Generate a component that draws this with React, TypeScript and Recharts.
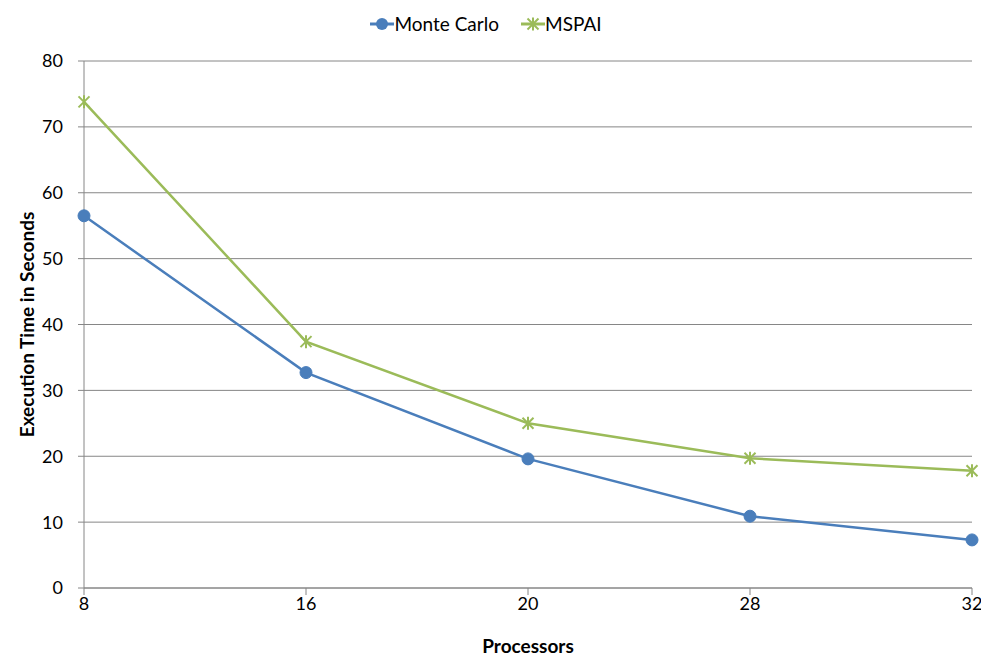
import React from 'react';
import { LineChart, Line, XAxis, YAxis, CartesianGrid, Legend } from 'recharts';

const processors = ['8', '16', '20', '28', '32'];
const monteCarlo = [56.5, 32.7, 19.6, 10.9, 7.3];
const mspai = [73.8, 37.4, 25.0, 19.7, 17.8];
const yTicks = [0, 10, 20, 30, 40, 50, 60, 70, 80];

const data = processors.map((p, i) => ({ p, mc: monteCarlo[i], ms: mspai[i] }));

const BLUE = '#4A7EBB';
const GREEN = '#9BBB59';
const GRID = '#868686';
const FONT = 'Lato, "Open Sans", sans-serif';

const CircleDot = (props: any) => {
  const { cx, cy } = props;
  if (cx == null || cy == null) return null;
  return <circle cx={cx} cy={cy} r={6} fill={BLUE} stroke={BLUE} strokeWidth={1} />;
};

const StarDot = (props: any) => {
  const { cx, cy } = props;
  if (cx == null || cy == null) return null;
  const s = 5.5;
  return (
    <g stroke={GREEN} strokeWidth={2}>
      <line x1={cx - s} y1={cy - s} x2={cx + s} y2={cy + s} />
      <line x1={cx - s} y1={cy + s} x2={cx + s} y2={cy - s} />
      <line x1={cx} y1={cy - s - 1} x2={cx} y2={cy + s + 1} />
    </g>
  );
};

const LegendContent = () => (
  <div style={{ display: 'flex', justifyContent: 'center', fontFamily: FONT, fontSize: 19, color: '#000' }}>
    <div style={{ display: 'flex', alignItems: 'center', marginRight: 22 }}>
      <svg width={24} height={16}>
        <line x1={0} y1={8} x2={24} y2={8} stroke={BLUE} strokeWidth={3} />
        <circle cx={12} cy={8} r={6} fill={BLUE} />
      </svg>
      <span>Monte Carlo</span>
    </div>
    <div style={{ display: 'flex', alignItems: 'center' }}>
      <svg width={24} height={16}>
        <line x1={0} y1={8} x2={24} y2={8} stroke={GREEN} strokeWidth={3} />
        <g stroke={GREEN} strokeWidth={2}>
          <line x1={6.5} y1={2.5} x2={17.5} y2={13.5} />
          <line x1={6.5} y1={13.5} x2={17.5} y2={2.5} />
          <line x1={12} y1={1.5} x2={12} y2={14.5} />
        </g>
      </svg>
      <span>MSPAI</span>
    </div>
  </div>
);

export default function App() {
  return (
    <div style={{ position: 'absolute', left: 0, top: 0, background: '#fff' }}>
      <LineChart
        width={981}
        height={659}
        data={data}
        margin={{ top: 38, right: 9, bottom: 0, left: 0 }}
        style={{ fontFamily: FONT }}
      >
        <CartesianGrid vertical={false} stroke={GRID} strokeWidth={1} />
        <XAxis
          dataKey="p"
          interval={0}
          padding={{ left: 0, right: 0 }}
          height={71}
          stroke={GRID}
          tickLine={{ stroke: GRID }}
          tickSize={7}
          tick={{ fill: '#000', fontSize: 18, fontFamily: FONT }}
          tickMargin={2}
          label={{ value: 'Processors', position: 'insideBottom', offset: 6, style: { fontWeight: 700, fontSize: 19, fill: '#000', fontFamily: FONT } }}
        />
        <YAxis
          domain={[0, 80]}
          ticks={yTicks}
          interval={0}
          width={84}
          stroke={GRID}
          tickLine={{ stroke: GRID }}
          tickSize={6}
          tick={{ fill: '#000', fontSize: 18, fontFamily: FONT }}
          tickMargin={15}
          label={{ value: 'Execution Time in Seconds', angle: -90, position: 'insideLeft', offset: 27, style: { textAnchor: 'middle', fontWeight: 700, fontSize: 19, fill: '#000', fontFamily: FONT } }}
        />
        <Legend verticalAlign="top" height={0} wrapperStyle={{ top: 12 }} content={<LegendContent />} />
        <Line type="linear" dataKey="mc" name="Monte Carlo" stroke={BLUE} strokeWidth={2.5} dot={<CircleDot />} activeDot={false} isAnimationActive={false} />
        <Line type="linear" dataKey="ms" name="MSPAI" stroke={GREEN} strokeWidth={2.5} dot={<StarDot />} activeDot={false} isAnimationActive={false} />
      </LineChart>
    </div>
  );
}
